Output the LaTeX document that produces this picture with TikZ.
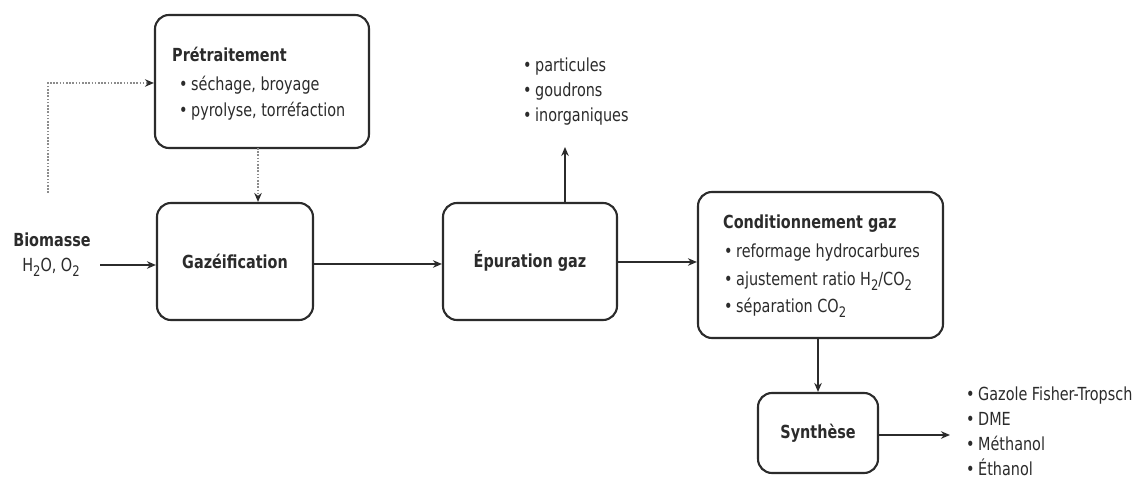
\documentclass[tikz,border=0pt]{standalone}
\usepackage{fontspec}
\setmainfont{DejaVu Sans}[FakeStretch=0.8]
\usetikzlibrary{arrows.meta}
\definecolor{ink}{HTML}{2B2B2B}
\definecolor{dotc}{HTML}{8C8C8C}
\newcommand{\subn}[1]{\raisebox{-5pt}{\fontsize{14.5}{14.5}\selectfont #1}}
\newcommand{\bul}{•\hspace{3.5pt}}
\begin{document}
\begin{tikzpicture}[x=1pt,y=-1pt,
  box/.style={draw=ink, line width=2.1pt, rounded corners=14pt, fill=white, inner sep=0pt, text=ink, font=\fontsize{18}{20}\selectfont\bfseries},
  txt/.style={text=ink, font=\fontsize{18}{20}\selectfont, inner sep=0pt, anchor=base west},
  ttl/.style={txt, font=\fontsize{18}{20}\selectfont\bfseries},
  arr/.style={draw=ink, line width=1.7pt, -{Stealth[length=9pt,width=7.5pt]}},
  dotarr/.style={draw=dotc, line width=1.4pt, dash pattern=on 1.6pt off 1.6pt, -{Stealth[length=9pt,width=7.5pt,color=ink]}}]
\useasboundingbox (0,0) rectangle (1141,478);
\fill[white] (0,0) rectangle (1141,478);

% boxes
\node[box, minimum width=214pt, minimum height=133pt] (pre) at (262,81.5) {};
\node[box, minimum width=156pt, minimum height=117pt] (gaz) at (235,261.5) {Gazéification};
\node[box, minimum width=174pt, minimum height=117pt] (epu) at (530,261.5) {Épuration gaz};
\node[box, minimum width=245pt, minimum height=146pt] (cond) at (820.5,265) {};
\node[box, minimum width=120pt, minimum height=80pt] (syn) at (818,433) {Synthèse};

% box texts
\node[ttl] (pre0) at (172,62) {Prétraitement};
\node[txt] (pre1) at (179,91) {\bul séchage, broyage};
\node[txt] (pre2) at (179,117) {\bul pyrolyse, torréfaction};

\node[ttl] (cond0) at (723,229) {Conditionnement gaz};
\node[txt] (cond1) at (724,258) {\bul reformage hydrocarbures};
\node[txt] (cond2) at (724,286) {\bul ajustement ratio H\subn{2}/CO\subn{2}};
\node[txt] (cond3) at (724,313) {\bul séparation CO\subn{2}};

% inputs
\node[ttl, anchor=base] (bio) at (52,247) {Biomasse};
\node[txt, anchor=base] (h2o) at (51,272) {H\subn{2}O, O\subn{2}};
\coordinate (bioend) at (100,265);
\coordinate (dotstart) at (48,193);

% outputs
\node[txt] (par1) at (523,72) {\bul particules};
\node[txt] (par2) at (523,97) {\bul goudrons};
\node[txt] (par3) at (523,122) {\bul inorganiques};
\coordinate (partop) at (565,147);

\node[txt] (prod1) at (966,400) {\bul Gazole Fisher-Tropsch};
\node[txt] (prod2) at (966,425) {\bul DME};
\node[txt] (prod3) at (966,450) {\bul Méthanol};
\node[txt] (prod4) at (966,475) {\bul Éthanol};
\coordinate (prodend) at (950,435);

% connectors
\draw[dotarr] (dotstart) |- (pre.west |- 0,83);
\draw[dotarr] (258,148) -- (gaz.north -| 258,0);
\draw[arr] (bioend) -- (gaz.west |- bioend);
\draw[arr] (gaz.east |- 0,264) -- (epu.west |- 0,264);
\draw[arr] (epu.east |- 0,262) -- (cond.west |- 0,262);
\draw[arr] (epu.north -| partop) -- (partop);
\draw[arr] (cond.south -| syn.north) -- (syn.north);
\draw[arr] (syn.east |- prodend) -- (prodend);
\end{tikzpicture}
\end{document}
